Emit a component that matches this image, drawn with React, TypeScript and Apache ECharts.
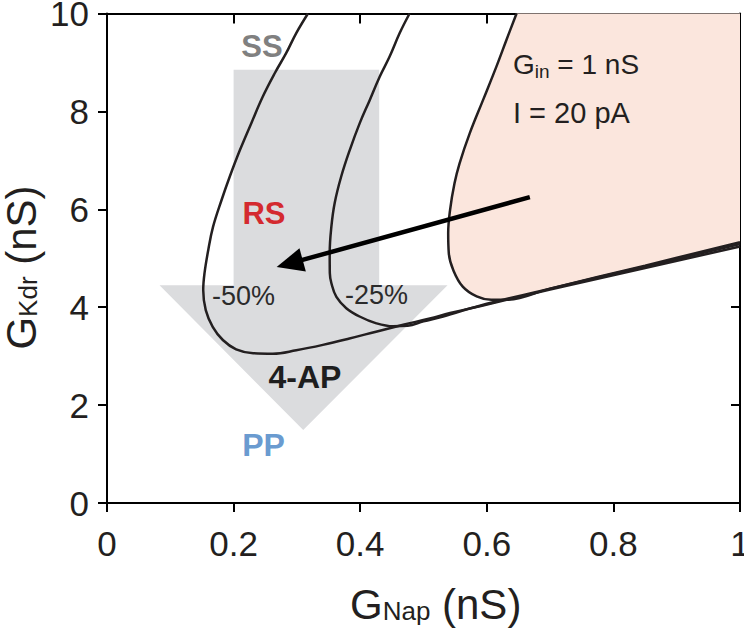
import React, { useEffect, useRef } from "react";
import * as echarts from "echarts";

// ---- data ----
const xTickValues = [0, 0.2, 0.4, 0.6, 0.8, 1];
const yTickValues = [0, 2, 4, 6, 8, 10];

// control boundary (Gin = 1 nS, I = 20 pA), shaded region to its right
const curveControl: number[][] = [
  [0.647, 10.0], [0.631, 9.46], [0.615, 8.91], [0.594, 8.23], [0.573, 7.55],
  [0.557, 6.94], [0.549, 6.53], [0.542, 5.99], [0.539, 5.51], [0.540, 5.10],
  [0.547, 4.76], [0.562, 4.42], [0.584, 4.22], [0.607, 4.15], [0.63, 4.15],
  [0.7, 4.38], [0.85, 4.85], [1.0, 5.33],
];
// -25% boundary
const curve25: number[][] = [
  [0.478, 10.0], [0.4624, 9.60], [0.4465, 9.12], [0.4308, 8.71], [0.415, 8.23],
  [0.3993, 7.76], [0.3835, 7.21], [0.370, 6.67], [0.3597, 6.13], [0.3545, 5.65],
  [0.3518, 5.10], [0.352, 4.70], [0.3545, 4.49], [0.3624, 4.21], [0.378, 3.98],
  [0.399, 3.81], [0.4256, 3.67], [0.452, 3.61], [0.475, 3.62], [0.50, 3.71],
  [0.531, 3.81], [0.589, 4.03], [0.7, 4.38], [0.85, 4.83], [1.0, 5.29],
];
// -50% boundary
const curve50: number[][] = [
  [0.3175, 10.0], [0.299, 9.60], [0.283, 9.19], [0.265, 8.78], [0.246, 8.30],
  [0.228, 7.76], [0.210, 7.21], [0.194, 6.67], [0.181, 6.19], [0.1675, 5.64],
  [0.160, 5.17], [0.154, 4.69], [0.152, 4.35], [0.156, 3.94], [0.167, 3.60],
  [0.183, 3.33], [0.204, 3.14], [0.231, 3.06], [0.262, 3.05], [0.299, 3.12],
  [0.341, 3.23], [0.383, 3.36], [0.425, 3.50], [0.468, 3.64], [0.510, 3.77],
  [0.542, 3.88], [0.589, 4.02], [0.7, 4.36], [0.85, 4.80], [1.0, 5.24],
];
// corner closing the shaded control region along the frame
const controlRegionCorners: number[][] = [[1.0, 10.0]];
// big grey downward arrow (4-AP)
const grayArrow: number[][] = [
  [0.2, 8.85], [0.43, 8.85], [0.43, 4.45], [0.538, 4.45],
  [0.31, 1.49], [0.083, 4.45], [0.2, 4.45],
];
// black arrow: tail -> tip
const shiftArrow: number[][] = [[0.668, 6.25], [0.268, 4.82]];

const FONT = "Liberation Sans, Arial, Helvetica, sans-serif";
const INK = "#231f20";

export default function App() {
  const ref = useRef<HTMLDivElement>(null);

  useEffect(() => {
    document.body.style.margin = "0";
    document.body.style.overflow = "hidden";
    if (!ref.current) return;
    const chart = echarts.init(ref.current, undefined, { renderer: "svg" });

    const polySeries = (pts: number[][], fill: string, z: number) => ({
      type: "custom",
      coordinateSystem: "cartesian2d",
      xAxisIndex: 0,
      yAxisIndex: 0,
      z,
      silent: true,
      data: [[0, 0]],
      renderItem: (_p: any, api: any) => ({
        type: "polygon",
        shape: { points: pts.map((p) => api.coord(p)) },
        style: { fill, stroke: "none" },
      }),
    });

    const lineSeries = (pts: number[][]) => ({
      type: "line",
      xAxisIndex: 0,
      yAxisIndex: 0,
      data: pts,
      smooth: 0.4,
      showSymbol: false,
      symbol: "none",
      z: 3,
      silent: true,
      lineStyle: { color: INK, width: 2.5 },
    });

    const axisCommonX = { type: "value", min: 0, max: 1, interval: 0.2 };
    const axisCommonY = { type: "value", min: 0, max: 10, interval: 2 };
    const lineStyleAxis = { color: "#000", width: 2 };

    chart.setOption({
      animation: false,
      grid: {
        left: 107, right: 4, top: 13.5, bottom: 131,
        containLabel: false, outerBoundsMode: "none",
      },
      xAxis: [
        {
          ...axisCommonX,
          position: "bottom",
          axisLine: { show: true, onZero: false, lineStyle: lineStyleAxis },
          axisTick: { show: true, inside: false, length: 9, lineStyle: { color: "#000", width: 2 } },
          axisLabel: { show: true, margin: 23, fontSize: 35, color: INK, fontFamily: FONT },
          splitLine: { show: false },
        },
        {
          ...axisCommonX,
          position: "top",
          axisLine: { show: true, onZero: false, lineStyle: lineStyleAxis },
          axisTick: { show: true, inside: true, length: 10, lineStyle: { color: "#000", width: 2 } },
          axisLabel: { show: false },
          splitLine: { show: false },
        },
      ],
      yAxis: [
        {
          ...axisCommonY,
          position: "left",
          axisLine: { show: true, onZero: false, lineStyle: lineStyleAxis },
          axisTick: { show: true, inside: false, length: 9, lineStyle: { color: "#000", width: 2 } },
          axisLabel: { show: true, margin: 18, fontSize: 35, color: INK, fontFamily: FONT, padding: [4, 0, 0, 0] },
          splitLine: { show: false },
        },
        {
          ...axisCommonY,
          position: "right",
          axisLine: { show: true, onZero: false, lineStyle: lineStyleAxis },
          axisTick: { show: true, inside: true, length: 9, lineStyle: { color: "#000", width: 2 } },
          axisLabel: { show: false },
          splitLine: { show: false },
        },
      ],
      series: [
        polySeries(grayArrow, "#dbdcde", 1),
        polySeries([...curveControl, ...controlRegionCorners], "#fbe6dd", 1),
        lineSeries(curveControl),
        lineSeries(curve25),
        lineSeries(curve50),
        {
          type: "custom",
          coordinateSystem: "cartesian2d",
          xAxisIndex: 0,
          yAxisIndex: 0,
          z: 5,
          silent: true,
          data: [[0, 0]],
          renderItem: (_p: any, api: any) => {
            const a = api.coord(shiftArrow[0]);
            const b = api.coord(shiftArrow[1]);
            const dx = b[0] - a[0];
            const dy = b[1] - a[1];
            const len = Math.hypot(dx, dy);
            const ux = dx / len;
            const uy = dy / len;
            const hl = 27;
            const hw = 12;
            const base = [b[0] - ux * hl, b[1] - uy * hl];
            const left = [base[0] - uy * hw, base[1] + ux * hw];
            const right = [base[0] + uy * hw, base[1] - ux * hw];
            return {
              type: "group",
              children: [
                {
                  type: "line",
                  shape: { x1: a[0], y1: a[1], x2: base[0] + ux * 4, y2: base[1] + uy * 4 },
                  style: { stroke: "#000", lineWidth: 4.5 },
                },
                {
                  type: "polygon",
                  shape: { points: [b, left, right] },
                  style: { fill: "#000" },
                },
              ],
            };
          },
        },
      ],
      graphic: [
        {
          type: "text", x: 262, y: 46, z: 10,
          style: { text: "SS", fill: "#808080", font: `bold 31px ${FONT}`, textAlign: "center", textVerticalAlign: "middle" },
        },
        {
          type: "text", x: 264, y: 213, z: 10,
          style: { text: "RS", fill: "#d42a2f", font: `bold 31px ${FONT}`, textAlign: "center", textVerticalAlign: "middle" },
        },
        {
          type: "text", x: 243.5, y: 296, z: 10,
          style: { text: "-50%", fill: "#2b2b2b", font: `27px ${FONT}`, textAlign: "center", textVerticalAlign: "middle" },
        },
        {
          type: "text", x: 376.5, y: 295, z: 10,
          style: { text: "-25%", fill: "#2b2b2b", font: `27px ${FONT}`, textAlign: "center", textVerticalAlign: "middle" },
        },
        {
          type: "text", x: 305, y: 377, z: 10,
          style: { text: "4-AP", fill: "#1e1e1e", font: `bold 32px ${FONT}`, textAlign: "center", textVerticalAlign: "middle" },
        },
        {
          type: "text", x: 263.5, y: 445, z: 10,
          style: { text: "PP", fill: "#6a9bd0", font: `bold 32px ${FONT}`, textAlign: "center", textVerticalAlign: "middle" },
        },
        {
          type: "text", x: 513, y: 64, z: 10,
          style: {
            text: "{a|G}{s|in}{a| = 1 nS}",
            textAlign: "left", textVerticalAlign: "middle",
            rich: {
              a: { fontSize: 28, fontFamily: FONT, fill: INK, lineHeight: 34 },
              s: { fontSize: 19, fontFamily: FONT, fill: INK, lineHeight: 17, verticalAlign: "bottom" },
            },
          },
        },
        {
          type: "text", x: 513, y: 113, z: 10,
          style: { text: "I = 20 pA", fill: INK, font: `29px ${FONT}`, textAlign: "left", textVerticalAlign: "middle" },
        },
        {
          type: "text", x: 350, y: 604, z: 10,
          style: {
            text: "{a|G}{s|Nap}{a| (nS)}",
            textAlign: "left", textVerticalAlign: "middle",
            rich: {
              a: { fontSize: 42, fontFamily: FONT, fill: INK, lineHeight: 40 },
              s: { fontSize: 26, fontFamily: FONT, fill: INK, lineHeight: 23, verticalAlign: "bottom" },
            },
          },
        },
        {
          type: "text", x: 21, y: 267.5, z: 10, rotation: Math.PI / 2,
          style: {
            text: "{a|G}{s|Kdr}{a| (nS)}",
            textAlign: "center", textVerticalAlign: "middle",
            rich: {
              a: { fontSize: 42, fontFamily: FONT, fill: INK, lineHeight: 40 },
              s: { fontSize: 26, fontFamily: FONT, fill: INK, lineHeight: 23, verticalAlign: "bottom" },
            },
          },
        },
      ],
    });

    return () => chart.dispose();
  }, []);

  return <div ref={ref} style={{ width: 744, height: 634 }} />;
}
